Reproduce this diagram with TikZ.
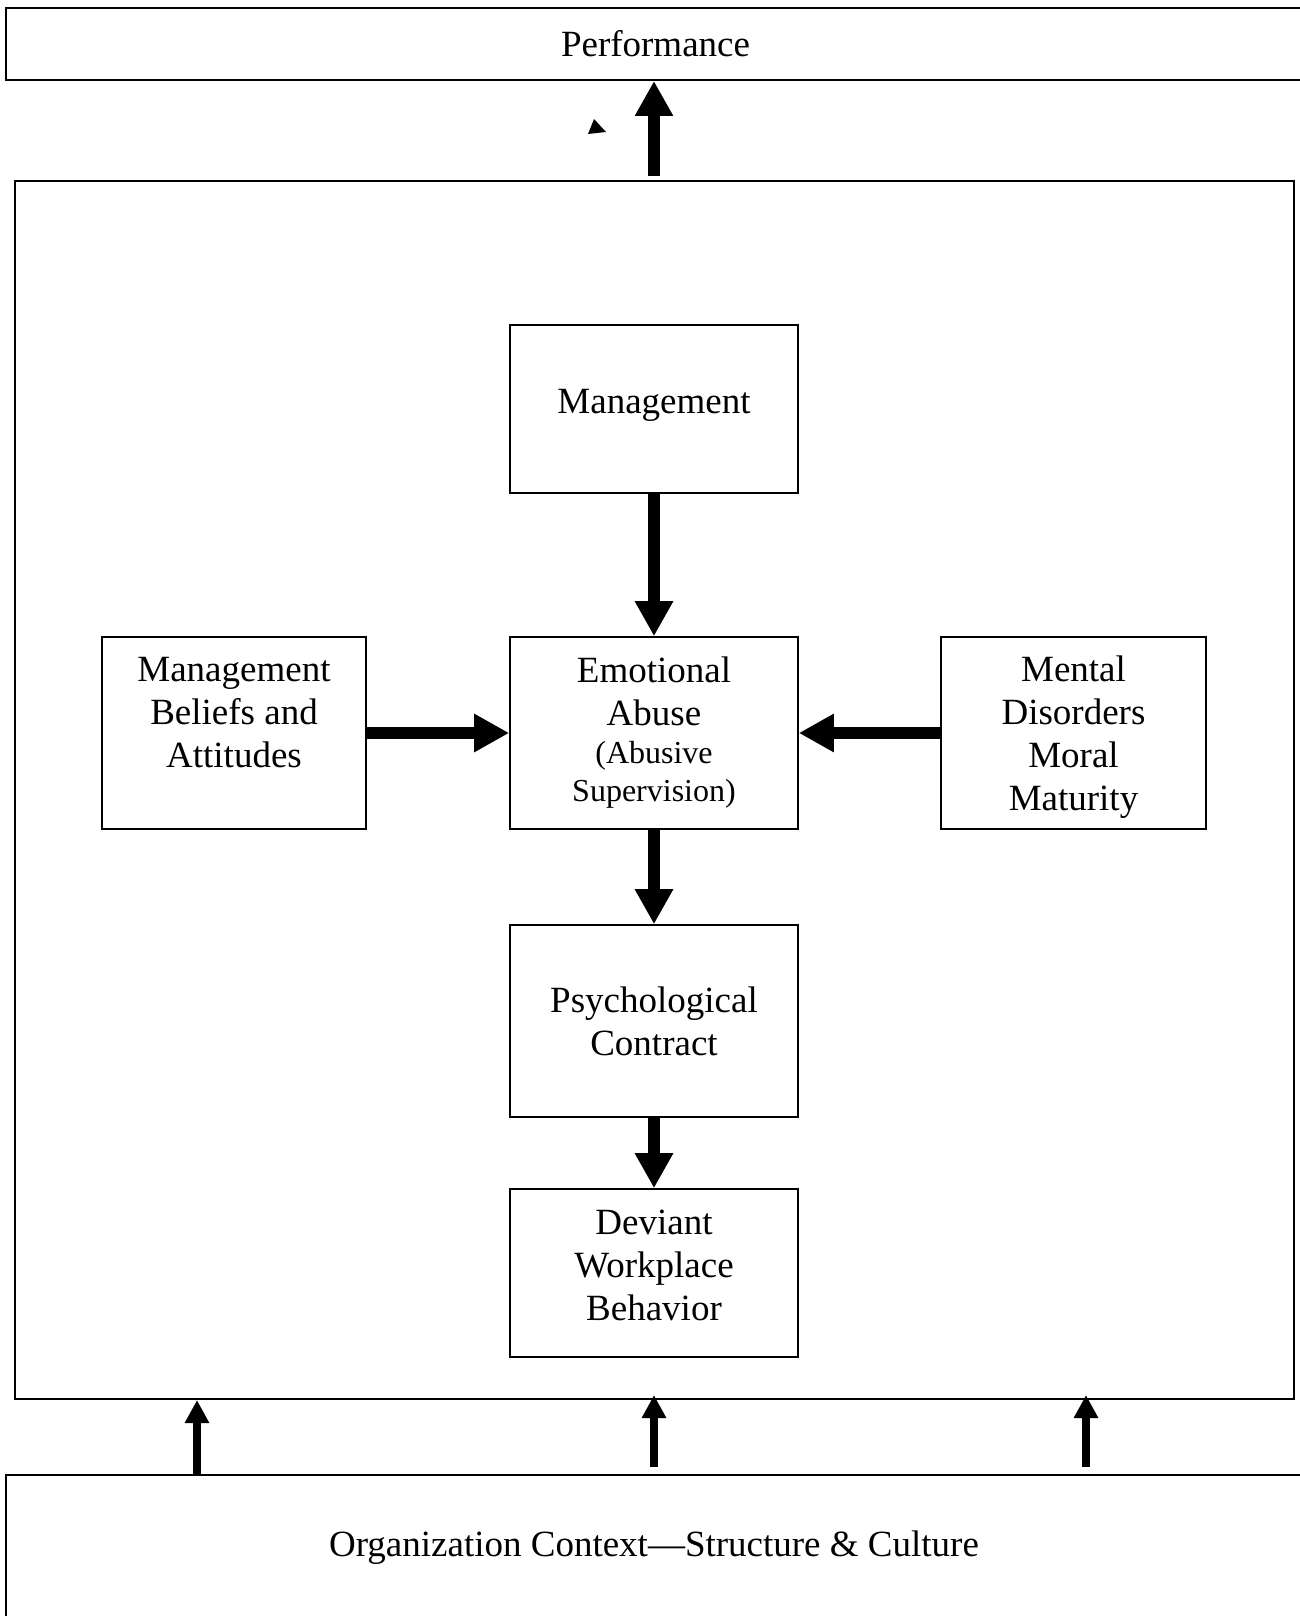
\documentclass[tikz,border=0pt]{standalone}
\usepackage{fontspec}
\setmainfont{Liberation Serif}
\usetikzlibrary{arrows.meta,calc}

\begin{document}
\begin{tikzpicture}[x=1pt,y=-1pt,
  frame/.style={draw,line width=2pt,inner sep=0pt},
  box/.style={draw,line width=1.6pt,align=center,inner sep=0pt,
    font=\fontsize{37}{43}\selectfont},
  big/.style={font=\fontsize{37}{43}\selectfont},
  flow/.style={line width=12pt,-{Triangle[length=35pt,width=36pt]}},
  lift/.style={line width=7.5pt,-{Triangle[length=23pt,width=23pt]}}]

\useasboundingbox (0,0) rectangle (1299,1616);

% outer frames
\node[frame,big,minimum width=1299pt,minimum height=72pt] (perf) at (655.5,44) {Performance\\[-28pt]\mbox{}};
\node[frame,minimum width=1279pt,minimum height=1218pt] (inner) at (654.5,790) {};
\node[frame,minimum width=1300pt,minimum height=200pt,anchor=north] (org) at (656,1474) {};
\node[big] (orgtext) at (654,1548) {Organization Context—Structure \& Culture};

% inner boxes
\node[box,minimum width=288pt,minimum height=168pt] (mgmt) at (654,409) {Management\\[-27pt]\mbox{}};
\node[box,minimum width=288pt,minimum height=192pt] (emo) at (654,733)
  {Emotional\\Abuse\\[-5pt]\fontsize{32}{38}\selectfont(Abusive\\[-5pt]\fontsize{32}{38}\selectfont Supervision)};
\node[box,minimum width=264pt,minimum height=192pt] (mba) at (234,733)
  {Management\\Beliefs and\\Attitudes\\[-2pt]\mbox{}};
\node[box,minimum width=265pt,minimum height=192pt] (mdm) at (1073.5,733)
  {\mbox{}\\[-10pt]Mental\\Disorders\\Moral\\Maturity};
\node[box,minimum width=288pt,minimum height=192pt] (psych) at (654,1021)
  {Psychological\\Contract};
\node[box,minimum width=288pt,minimum height=168pt] (dev) at (654,1273)
  {Deviant\\Workplace\\Behavior\\[-27pt]\mbox{}};

% connectors
\coordinate (topfoot) at ($(inner.north -| mgmt.north)+(0,-4)$);
\draw[flow] (topfoot) -- (perf.south -| mgmt.north);
\draw[flow] (mgmt) -- (emo);
\draw[flow] (mba) -- (emo);
\draw[flow] (mdm) -- (emo);
\draw[flow] (emo) -- (psych);
\draw[flow] (psych) -- (dev);

\coordinate (up1) at (197,1474);
\coordinate (up2) at (654,1467);
\coordinate (up3) at (1086,1467);
\coordinate (tip2) at (654,1395);
\coordinate (tip3) at (1086,1395);
\draw[lift] (up1) -- (up1 |- inner.south);
\draw[lift] (up2) -- (tip2);
\draw[lift] (up3) -- (tip3);

% small stray mark
\fill (594,119) -- (588,134) -- (606,132) -- cycle;
\end{tikzpicture}
\end{document}
